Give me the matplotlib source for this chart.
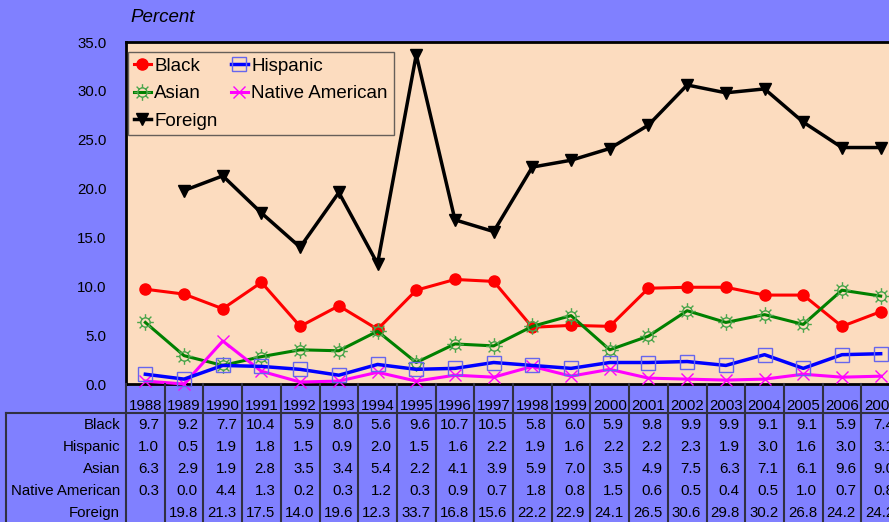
# %%

import numpy as np
import matplotlib.pyplot as plt
import matplotlib.path as mpath
import matplotlib.transforms as mtransforms

# %%

# Dados (percentuais por ano)
years = [str(y) for y in range(1988, 2008)]
black = [9.7, 9.2, 7.7, 10.4, 5.9, 8.0, 5.6, 9.6, 10.7, 10.5, 5.8, 6.0, 5.9, 9.8, 9.9, 9.9, 9.1, 9.1, 5.9, 7.4]
hispanic = [1.0, 0.5, 1.9, 1.8, 1.5, 0.9, 2.0, 1.5, 1.6, 2.2, 1.9, 1.6, 2.2, 2.2, 2.3, 1.9, 3.0, 1.6, 3.0, 3.1]
asian = [6.3, 2.9, 1.9, 2.8, 3.5, 3.4, 5.4, 2.2, 4.1, 3.9, 5.9, 7.0, 3.5, 4.9, 7.5, 6.3, 7.1, 6.1, 9.6, 9.0]
native = [0.3, 0.0, 4.4, 1.3, 0.2, 0.3, 1.2, 0.3, 0.9, 0.7, 1.8, 0.8, 1.5, 0.6, 0.5, 0.4, 0.5, 1.0, 0.7, 0.8]
foreign = [np.nan, 19.8, 21.3, 17.5, 14.0, 19.6, 12.3, 33.7, 16.8, 15.6, 22.2, 22.9, 24.1, 26.5, 30.6, 29.8, 30.2, 26.8, 24.2, 24.2]

row_names = ["Black", "Hispanic", "Asian", "Native American", "Foreign"]
rows = [black, hispanic, asian, native, foreign]

# %%

plt.rcParams["font.family"] = ["Liberation Sans", "DejaVu Sans"]

W, H = 889, 522
fig = plt.figure(figsize=(W / 100, H / 100), dpi=100, facecolor="#8080FF")

# eixo vai um pouco além da borda direita (como no original, cortado)
ax = fig.add_axes([126 / W, 1 - 384 / H, 774 / W, 342 / H])
ax.set_facecolor("#FCDCBF")

x = np.arange(len(years))

# marcador "sol" para Asian: círculo + raios
circ = mpath.Path.circle((0, 0), 0.55)
verts, codes = [], []
for a in np.linspace(0, 2 * np.pi, 8, endpoint=False):
    verts += [(0.55 * np.cos(a), 0.55 * np.sin(a)), (np.cos(a), np.sin(a))]
    codes += [mpath.Path.MOVETO, mpath.Path.LINETO]
sun = mpath.Path.make_compound_path(circ, mpath.Path(verts, codes))

ax.plot(x, black, color="red", lw=2.2, marker="o", ms=8, label="Black", clip_on=False, zorder=3)
ax.plot(x, asian, color="#008000", lw=2.2, marker=sun, ms=12, mfc="none", mec="#4CA64C", mew=1,
        label="Asian", clip_on=False, zorder=3)
ax.plot(x, foreign, color="black", lw=2.5, marker="v", ms=8, label="Foreign", clip_on=False, zorder=5)
ax.plot(x, hispanic, color="blue", lw=2.5, marker="s", ms=10, mfc="none", mec="#6666EE", mew=1,
        label="Hispanic", clip_on=False, zorder=4)
ax.plot(x, native, color="magenta", lw=2.2, marker="x", ms=9, mew=1, label="Native American",
        clip_on=False, zorder=3.5)

ax.set_xlim(-0.5, len(years) - 0.5)
ax.set_ylim(0, 35)
ax.set_yticks(np.arange(0, 36, 5))
ax.set_yticklabels([f"{v:.1f}" for v in np.arange(0, 36, 5)], fontsize=10.8)
ax.tick_params(axis="y", length=0, pad=14)
ax.set_xticks([])
for s in ax.spines.values():
    s.set_linewidth(2)
    s.set_color("black")

fig.text(130 / W, 1 - 17 / H, "Percent", style="italic", fontsize=13.5, va="center", ha="left")

leg = ax.legend(loc="upper left", bbox_to_anchor=(128 / W, 1 - 52 / H), bbox_transform=fig.transFigure,
                ncol=2, fontsize=13.5, frameon=True, fancybox=False, borderaxespad=0,
                handlelength=0.9, handletextpad=0.2, columnspacing=0.7, labelspacing=0.55,
                borderpad=0.3)
leg.get_frame().set_facecolor("#FCDCBF")
leg.get_frame().set_edgecolor("#404040")
leg.get_frame().set_linewidth(1)

# %%

# Tabela de dados abaixo do gráfico
tr = mtransforms.blended_transform_factory(ax.transData, fig.transFigure)

def fy(p):
    return 1 - p / H

line_kw = dict(color="#303040", lw=1.5, clip_on=False)
for i in range(len(years) + 1):
    fig.add_artist(plt.Line2D([i - 0.5, i - 0.5], [fy(384), fy(H + 5)], transform=tr, **line_kw))
fig.add_artist(plt.Line2D([6 / W, 1.02], [fy(413), fy(413)], transform=fig.transFigure, **line_kw))
fig.add_artist(plt.Line2D([6 / W, 6 / W], [fy(413), fy(H + 5)], transform=fig.transFigure, **line_kw))

for i, yr in enumerate(years):
    fig.text(i, fy(406), yr, transform=tr, ha="center", va="center", fontsize=10.8)

row_y = [425, 447, 469, 491, 513]
for name, vals, ry in zip(row_names, rows, row_y):
    fig.text(120 / W, fy(ry), name, ha="right", va="center", fontsize=10.8)
    for i, v in enumerate(vals):
        if np.isnan(v):
            continue
        fig.text(i + 0.36, fy(ry), f"{v:.1f}", transform=tr, ha="right", va="center", fontsize=10.8)

fig.savefig("out.png", dpi=100, facecolor=fig.get_facecolor())
